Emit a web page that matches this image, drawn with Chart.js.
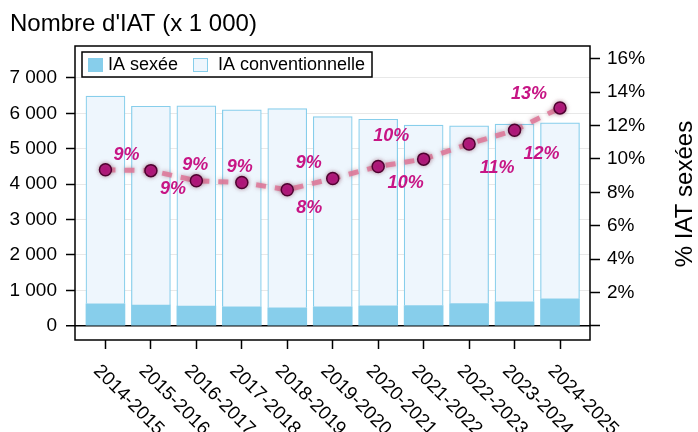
<!DOCTYPE html>
<html lang="fr">
<head>
<meta charset="utf-8">
<title>Nombre d'IAT</title>
<script src="https://cdn.jsdelivr.net/npm/chart.js@4.4.1/dist/chart.umd.min.js"></script>
<style>
    html, body { margin: 0; padding: 0; background: #fff; }
    #wrap { width: 698px; height: 432px; }
</style>
</head>
<body>
<div id="wrap"><canvas id="iatChart" width="698" height="432"></canvas></div>
<script>
const annees = ['2014-2015', '2015-2016', '2016-2017', '2017-2018', '2018-2019', '2019-2020',
    '2020-2021', '2021-2022', '2022-2023', '2023-2024', '2024-2025'];
const iaSexees = [621, 584, 555, 536, 508, 536, 564, 573, 630, 677, 762];
const iaConventionnelles = [5863, 5616, 5655, 5561, 5625, 5372, 5269, 5091, 5015, 5016, 4968];
const pctSexees = [9.35, 9.3, 8.69, 8.59, 8.15, 8.83, 9.55, 9.99, 10.9, 11.72, 13.06];
const ticksGauche = [0, 1000, 2000, 3000, 4000, 5000, 6000, 7000];
const ticksDroite = [0, 2, 4, 6, 8, 10, 12, 14, 16];

// where each % label sits relative to its point (dx, dy in px)
const decalages = [[21, -15], [22, 18], [-1, -16], [-2, -15], [22, 18], [-24, -15],
    [13, -30], [-18, 24], [28, 24], [27, 24], [-31, -14]];

const FONT = '"Liberation Sans", Arial, sans-serif';
const BLEU = '#87CEEB';
const BLEU_CLAIR = '#EEF6FD';
const MAGENTA = '#C71585';

document.addEventListener('DOMContentLoaded', function() {
    createIatChart();
});

function milliers(v) {
    return String(v).replace(/\B(?=(\d{3})+(?!\d))/g, ' ');
}

const decorPlugin = {
    id: 'decor',
    beforeDatasetDraw(chart, args) {
        if (args.index === 0) {
            const ctx = chart.ctx;
            ctx.save();
            ctx.shadowColor = 'rgba(150, 90, 110, 0.6)';
            ctx.shadowBlur = 4;
        }
    },
    afterDatasetDraw(chart, args) {
        if (args.index === 0) {
            chart.ctx.restore();
        }
    },
    afterDraw(chart) {
        const ctx = chart.ctx;
        const area = chart.chartArea;
        const xs = chart.scales.x;

        ctx.save();
        // plot frame
        ctx.strokeStyle = '#000';
        ctx.lineWidth = 1.5;
        ctx.strokeRect(area.left, area.top, area.right - area.left, area.bottom - area.top);

        // title
        ctx.fillStyle = '#000';
        ctx.font = '24px ' + FONT;
        ctx.textAlign = 'left';
        ctx.textBaseline = 'alphabetic';
        ctx.fillText("Nombre d'IAT (x 1 000)", 10, 31);

        // right axis title
        ctx.save();
        ctx.translate(685, 194);
        ctx.rotate(-Math.PI / 2);
        ctx.textAlign = 'center';
        ctx.textBaseline = 'middle';
        ctx.fillText('% IAT sexées', 0, 0);
        ctx.restore();

        // category labels, rotated down-right
        ctx.font = '19px ' + FONT;
        ctx.textAlign = 'left';
        ctx.textBaseline = 'middle';
        annees.forEach(function(a, i) {
            const px = xs.getPixelForValue(i);
            ctx.save();
            ctx.translate(px - 9, area.bottom + 28);
            ctx.rotate(Math.PI / 4);
            ctx.fillText(a, 0, 0);
            ctx.restore();
        });

        // % labels
        const meta = chart.getDatasetMeta(0);
        ctx.font = 'italic bold 18px ' + FONT;
        ctx.fillStyle = MAGENTA;
        ctx.textAlign = 'center';
        meta.data.forEach(function(pt, i) {
            ctx.fillText(Math.round(pctSexees[i]) + '%', pt.x + decalages[i][0], pt.y + decalages[i][1]);
        });

        // legend
        const lx = area.left + 7, ly = area.top + 6;
        ctx.fillStyle = '#fff';
        ctx.fillRect(lx, ly, 290, 25);
        ctx.strokeStyle = '#000';
        ctx.lineWidth = 1.5;
        ctx.strokeRect(lx, ly, 290, 25);
        ctx.font = '18px ' + FONT;
        ctx.textAlign = 'left';
        ctx.fillStyle = BLEU;
        ctx.fillRect(lx + 6, ly + 6, 15, 14);
        ctx.fillStyle = '#000';
        ctx.fillText('IA sexée', lx + 26, ly + 13);
        ctx.fillStyle = BLEU_CLAIR;
        ctx.fillRect(lx + 111, ly + 6, 15, 14);
        ctx.strokeStyle = BLEU;
        ctx.lineWidth = 1;
        ctx.strokeRect(lx + 111.5, ly + 6.5, 14, 13);
        ctx.fillStyle = '#000';
        ctx.fillText('IA conventionnelle', lx + 136, ly + 13);
        ctx.restore();
    }
};

function createIatChart() {
    const ctx = document.getElementById('iatChart').getContext('2d');
    new Chart(ctx, {
        data: {
            datasets: [{
                type: 'line',
                label: '% IAT sexées',
                data: pctSexees.map((v, i) => ({ x: i, y: v })),
                yAxisID: 'y1',
                order: 0,
                borderColor: 'rgba(222, 118, 152, 0.85)',
                borderWidth: 5,
                borderDash: [10, 9],
                tension: 0,
                pointRadius: 6,
                pointBackgroundColor: '#B0127A',
                pointBorderColor: '#4F0030',
                pointBorderWidth: 1.5
            }, {
                type: 'bar',
                label: 'IA sexée',
                data: iaSexees.map((v, i) => ({ x: i, y: v })),
                yAxisID: 'y',
                order: 1,
                backgroundColor: BLEU,
                borderWidth: 0,
                barThickness: 39
            }, {
                type: 'bar',
                label: 'IA conventionnelle',
                data: iaConventionnelles.map((v, i) => ({ x: i, y: v })),
                yAxisID: 'y',
                order: 2,
                backgroundColor: BLEU_CLAIR,
                borderColor: BLEU,
                borderWidth: 1.2,
                borderSkipped: 'start',
                barThickness: 39
            }]
        },
        plugins: [decorPlugin],
        options: {
            responsive: false,
            animation: false,
            layout: { padding: { top: 46, left: 0, right: 0, bottom: 0 } },
            plugins: {
                legend: { display: false },
                tooltip: { enabled: false }
            },
            scales: {
                x: {
                    type: 'linear',
                    stacked: true,
                    offset: false,
                    min: -0.67,
                    max: 10.66,
                    afterBuildTicks: s => { s.ticks = annees.map((a, i) => ({ value: i })); },
                    afterFit: s => { s.height = 92; },
                    grid: { offset: false, drawOnChartArea: false, tickLength: 9, tickColor: '#000', tickWidth: 1.5 },
                    border: { display: false },
                    ticks: { display: false }
                },
                y: {
                    stacked: true,
                    position: 'left',
                    min: -400,
                    max: 7900,
                    afterBuildTicks: s => { s.ticks = ticksGauche.map(v => ({ value: v })); },
                    afterFit: s => { s.width = 75; },
                    grid: {
                        color: c => (c.tick && c.tick.value === 0 ? '#000' : '#e8e8e8'),
                        lineWidth: c => (c.tick && c.tick.value === 0 ? 1.5 : 1),
                        tickColor: '#000',
                        tickWidth: 1.5,
                        tickLength: 9
                    },
                    border: { display: false },
                    ticks: {
                        color: '#000',
                        padding: 9,
                        font: { family: FONT, size: 19 },
                        callback: v => milliers(v)
                    }
                },
                y1: {
                    position: 'right',
                    min: -0.85,
                    max: 16.77,
                    afterBuildTicks: s => { s.ticks = ticksDroite.map(v => ({ value: v })); },
                    afterFit: s => { s.width = 108; },
                    grid: { drawOnChartArea: false, tickColor: '#000', tickWidth: 1.5, tickLength: 10 },
                    border: { display: false },
                    ticks: {
                        color: '#000',
                        padding: 7,
                        font: { family: FONT, size: 19 },
                        callback: v => (v === 0 ? '' : v + '%')
                    }
                }
            }
        }
    });
}
</script>
</body>
</html>
